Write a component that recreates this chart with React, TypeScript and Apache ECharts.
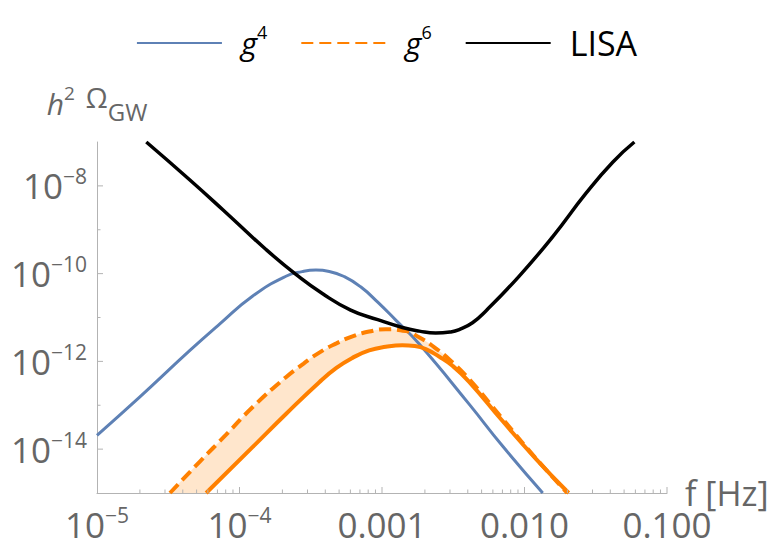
import React, { useEffect, useRef } from "react";
import * as echarts from "echarts";

// ---- data ----
const lisaF = [2.218e-5, 4.467e-5, 7.638e-5, 1.535e-4, 2.489e-4, 3.837e-4, 6.026e-4, 9.333e-4, 1.39e-3, 1.828e-3, 2.382e-3, 3.02e-3, 3.483e-3, 4.315e-3, 5.358e-3, 9.183e-3, 1.585e-2, 2.704e-2, 4.159e-2, 5.902e-2];
const lisaOmega = [1.0e-7, 1.38e-8, 2.858e-9, 3.54e-10, 9.594e-11, 3.467e-11, 1.479e-11, 8.913e-12, 5.929e-12, 4.898e-12, 4.406e-12, 4.677e-12, 5.309e-12, 7.586e-12, 1.413e-11, 8.79e-11, 7.096e-10, 6.823e-9, 3.467e-8, 1.0e-7];

const g4F = [1e-5, 1.991e-5, 4.467e-5, 7.244e-5, 1.239e-4, 2.118e-4, 2.754e-4, 3.436e-4, 4.266e-4, 5.445e-4, 7.079e-4, 9.333e-4, 1.259e-3, 1.82e-3, 4.074e-3, 7.015e-3, 1.343e-2];
const g4Omega = [2.07e-14, 1.531e-13, 1.75e-12, 7.047e-12, 3.09e-11, 8.71e-11, 1.109e-10, 1.202e-10, 1.122e-10, 8.511e-11, 5.012e-11, 2.239e-11, 8.511e-12, 2.512e-12, 1.072e-13, 1.175e-14, 1.0e-15];

const g6UpperF = [3.251e-5, 5.248e-5, 8.054e-5, 1.239e-4, 2.118e-4, 2.818e-4, 3.631e-4, 4.786e-4, 6.209e-4, 8.128e-4, 1.062e-3, 1.466e-3, 1.82e-3, 2.254e-3, 3.02e-3, 4.074e-3, 7.015e-3, 1.202e-2, 1.995e-2];
const g6UpperOmega = [1.0e-15, 5.129e-15, 2.138e-14, 9.12e-14, 4.365e-13, 8.913e-13, 1.585e-12, 2.57e-12, 3.715e-12, 4.786e-12, 5.37e-12, 4.898e-12, 3.548e-12, 2.27e-12, 1.047e-12, 3.981e-13, 4.898e-14, 6.166e-15, 1.0e-15];

const g6LowerF = [5.834e-5, 1.239e-4, 2.118e-4, 3.631e-4, 4.786e-4, 6.209e-4, 8.128e-4, 1.062e-3, 1.39e-3, 1.698e-3, 2.028e-3, 2.512e-3, 3.119e-3, 4.074e-3, 7.015e-3, 1.202e-2, 2.042e-2];
const g6LowerOmega = [1.0e-15, 1.122e-14, 6.31e-14, 3.357e-13, 7.079e-13, 1.202e-12, 1.778e-12, 2.153e-12, 2.344e-12, 2.239e-12, 1.905e-12, 1.288e-12, 7.943e-13, 3.467e-13, 4.365e-14, 6.026e-15, 1.0e-15];

const xTickValues = [1e-5, 1e-4, 1e-3, 1e-2, 1e-1];
const xTickLabels = ["10^\u22125", "10^\u22124", "0.001", "0.010", "0.100"];
const xMinorMultipliers = [2, 3, 4, 5, 6, 7, 8, 9];
const yTickValues = [1e-14, 1e-12, 1e-10, 1e-8];
const yTickLabels = ["10^\u221214", "10^\u221212", "10^\u221210", "10^\u22128"];
const yMinorTicks = [1e-13, 1e-11, 1e-9];

const legendNames = ["g4", "g6", "LISA"];

const X_MIN = 1e-5;
const X_MAX = 1e-1;
const Y_MIN = 1e-15;
const Y_MAX = 1e-7;

// ---- styles ----
const FONT = '"Open Sans", "Noto Sans", sans-serif';
const BLUE = "#5e81b5";
const ORANGE = "#ff8000";
const BAND = "rgba(255,128,0,0.2)";
const AXIS = "#b3b3b3";
const LABEL = "#666666";

const zip = (a: number[], b: number[]) => a.map((v, i) => [v, b[i]]);

// same bezier construction as ECharts line smoothing
function beziers(pts: number[][], smooth: number) {
  const segs: number[][] = [];
  if (pts.length < 2) return segs;
  let cp0x = pts[0][0];
  let cp0y = pts[0][1];
  for (let k = 1; k < pts.length; k++) {
    const [px, py] = pts[k - 1];
    const [x, y] = pts[k];
    let cp1x = x;
    let cp1y = y;
    let ncx = x;
    let ncy = y;
    if (k < pts.length - 1) {
      const [nx, ny] = pts[k + 1];
      let vx = nx - px;
      let vy = ny - py;
      const lenPrev = Math.hypot(x - px, y - py);
      const lenNext = Math.hypot(nx - x, ny - y);
      const ratio = lenNext / (lenNext + lenPrev);
      ncx = x + vx * smooth * ratio;
      ncy = y + vy * smooth * ratio;
      ncx = Math.min(ncx, Math.max(nx, x));
      ncy = Math.min(ncy, Math.max(ny, y));
      ncx = Math.max(ncx, Math.min(nx, x));
      ncy = Math.max(ncy, Math.min(ny, y));
      vx = ncx - x;
      vy = ncy - y;
      cp1x = x - (vx * lenPrev) / lenNext;
      cp1y = y - (vy * lenPrev) / lenNext;
      cp1x = Math.min(cp1x, Math.max(px, x));
      cp1y = Math.min(cp1y, Math.max(py, y));
      cp1x = Math.max(cp1x, Math.min(px, x));
      cp1y = Math.max(cp1y, Math.min(py, y));
      vx = x - cp1x;
      vy = y - cp1y;
      ncx = x + (vx * lenNext) / lenPrev;
      ncy = y + (vy * lenNext) / lenPrev;
    }
    segs.push([px, py, cp0x, cp0y, cp1x, cp1y, x, y]);
    cp0x = ncx;
    cp0y = ncy;
  }
  return segs;
}

const SMOOTH = 0.5;

const BandShape = echarts.graphic.extendShape({
  shape: { upper: [], lower: [] },
  buildPath(ctx: any, shape: any) {
    const up = beziers(shape.upper, SMOOTH);
    const lo = beziers(shape.lower, SMOOTH);
    if (!up.length || !lo.length) return;
    ctx.moveTo(up[0][0], up[0][1]);
    for (const s of up) ctx.bezierCurveTo(s[2], s[3], s[4], s[5], s[6], s[7]);
    const last = lo[lo.length - 1];
    ctx.lineTo(last[6], last[7]);
    for (let i = lo.length - 1; i >= 0; i--) {
      const s = lo[i];
      ctx.bezierCurveTo(s[4], s[5], s[2], s[3], s[0], s[1]);
    }
    ctx.closePath();
  },
});
echarts.graphic.registerShape("g6band", BandShape);

function makeFormatter(values: number[], labels: string[]) {
  return (v: number) => {
    const lv = Math.log10(v);
    const i = values.findIndex((t) => Math.abs(Math.log10(t) - lv) < 1e-6);
    if (i < 0) return "";
    const s = labels[i];
    if (s.includes("^")) {
      const [b, e] = s.split("^");
      return `{b|${b}}{s|${e}}`;
    }
    return `{b|${s}}`;
  };
}

const labelRich = {
  b: { fontSize: 35, lineHeight: 40, color: LABEL, fontFamily: FONT },
  s: { fontSize: 21, lineHeight: 16, verticalAlign: "top", color: LABEL, fontFamily: FONT },
};

export default function App() {
  const ref = useRef<HTMLDivElement>(null);

  useEffect(() => {
    if (!ref.current) return;
    const chart = echarts.init(ref.current, null, { renderer: "svg" });

    const xMinorTicks: number[] = [];
    for (let d = 0; d < xTickValues.length - 1; d++) {
      for (const m of xMinorMultipliers) xMinorTicks.push(xTickValues[d] * m);
    }

    const option: any = {
      animation: false,
      grid: { left: 97, right: 106, top: 142, bottom: 62, containLabel: false, outerBoundsMode: "none" },
      legend: {
        data: legendNames,
        top: 18,
        left: "center",
        itemWidth: 85,
        itemHeight: 14,
        itemGap: 33,
        selectedMode: false,
        itemStyle: { opacity: 0 },
        formatter: (name: string) =>
          name === "g4" ? "{i|g}{s|4}" : name === "g6" ? "{i|g}{s|6}" : "{n|LISA}",
        textStyle: {
          padding: [0, 0, 0, 14],
          color: "#000",
          fontFamily: FONT,
          rich: {
            i: { fontSize: 31, fontStyle: "italic", lineHeight: 40, color: "#000", fontFamily: FONT },
            s: { fontSize: 18, lineHeight: 21, verticalAlign: "top", color: "#000", fontFamily: FONT },
            n: { fontSize: 34, lineHeight: 40, color: "#000", fontFamily: FONT },
          },
        },
      },
      xAxis: {
        type: "log",
        logBase: 10,
        min: X_MIN,
        max: X_MAX,
        name: "f [Hz]",
        nameLocation: "end",
        nameGap: 18,
        nameMoveOverlap: false,
        nameTextStyle: { fontSize: 34, lineHeight: 20, color: LABEL, fontFamily: FONT, align: "left", verticalAlign: "middle", padding: [0, 0, 2, 0] },
        axisLine: { show: true, onZero: false, lineStyle: { color: AXIS, width: 1 } },
        axisTick: { show: false },
        minorTick: { show: false },
        splitLine: { show: false },
        axisLabel: {
          margin: 11,
          showMinLabel: true,
          showMaxLabel: true,
          formatter: makeFormatter(xTickValues, xTickLabels),
          rich: labelRich,
        },
      },
      yAxis: {
        type: "log",
        logBase: 10,
        min: Y_MIN,
        max: Y_MAX,
        name: "{h|h}{p|2}{o|\u03a9}{g|GW}",
        nameLocation: "end",
        nameGap: 19,
        nameMoveOverlap: false,
        nameTextStyle: {
          align: "center",
          verticalAlign: "bottom",
          color: LABEL,
          fontFamily: FONT,
          rich: {
            h: { fontSize: 30, fontStyle: "italic", lineHeight: 40, color: LABEL, fontFamily: FONT },
            p: { fontSize: 19, lineHeight: 26, verticalAlign: "top", color: LABEL, fontFamily: FONT },
            o: { fontSize: 28, lineHeight: 38, verticalAlign: "top", color: LABEL, fontFamily: FONT, padding: [0, 0, 0, 11] },
            g: { fontSize: 24, lineHeight: 20, verticalAlign: "bottom", color: LABEL, fontFamily: FONT },
          },
        },
        axisLine: { show: true, onZero: false, lineStyle: { color: AXIS, width: 1 } },
        axisTick: { show: false },
        minorTick: { show: false },
        splitLine: { show: false },
        axisLabel: {
          margin: 10,
          showMinLabel: true,
          showMaxLabel: true,
          formatter: makeFormatter(yTickValues, yTickLabels),
          rich: labelRich,
        },
      },
      series: [
        {
          type: "custom",
          name: "band",
          silent: true,
          clip: true,
          z: 1,
          data: [[1e-3, 1e-12]],
          renderItem: (params: any, api: any) => {
            if (params.dataIndex !== 0) return null;
            return {
              type: "g6band",
              shape: {
                upper: zip(g6UpperF, g6UpperOmega).map((p) => api.coord(p)),
                lower: zip(g6LowerF, g6LowerOmega).map((p) => api.coord(p)),
              },
              style: { fill: BAND },
            };
          },
        },
        {
          type: "line",
          name: "g4",
          data: zip(g4F, g4Omega),
          smooth: SMOOTH,
          symbol: "none",
          z: 2,
          lineStyle: { color: BLUE, width: 3 },
          itemStyle: { color: BLUE },
        },
        {
          type: "line",
          name: "g6 lower",
          data: zip(g6LowerF, g6LowerOmega),
          smooth: SMOOTH,
          symbol: "none",
          z: 3,
          lineStyle: { color: ORANGE, width: 4 },
          itemStyle: { color: ORANGE },
        },
        {
          type: "line",
          name: "g6",
          data: zip(g6UpperF, g6UpperOmega),
          smooth: SMOOTH,
          symbol: "none",
          z: 4,
          lineStyle: { color: ORANGE, width: 4, type: [12, 6] },
          itemStyle: { color: ORANGE },
        },
        {
          type: "line",
          name: "LISA",
          data: zip(lisaF, lisaOmega),
          smooth: SMOOTH,
          symbol: "none",
          z: 5,
          lineStyle: { color: "#000", width: 3.5 },
          itemStyle: { color: "#000" },
        },
        {
          type: "custom",
          name: "ticks",
          silent: true,
          clip: false,
          z: 6,
          data: [[1e-3, 1e-12]],
          renderItem: (params: any, api: any) => {
            if (params.dataIndex !== 0) return null;
            const children: any[] = [];
            const tickStyle = { stroke: AXIS, lineWidth: 1 };
            const xs: [number, number][] = [
              ...xTickValues.slice(1).map((v) => [v, 6] as [number, number]),
              ...xMinorTicks.map((v) => [v, 3.5] as [number, number]),
            ];
            for (const [v, len] of xs) {
              const p = api.coord([v, Y_MIN]);
              children.push({ type: "line", shape: { x1: p[0], y1: p[1], x2: p[0], y2: p[1] - len }, style: tickStyle });
            }
            const ys: [number, number][] = [
              ...yTickValues.map((v) => [v, 6] as [number, number]),
              ...yMinorTicks.map((v) => [v, 3.5] as [number, number]),
            ];
            for (const [v, len] of ys) {
              const p = api.coord([X_MIN, v]);
              children.push({ type: "line", shape: { x1: p[0], y1: p[1], x2: p[0] + len, y2: p[1] }, style: tickStyle });
            }
            return { type: "group", children };
          },
        },
      ],
    };

    chart.setOption(option);
    return () => chart.dispose();
  }, []);

  return (
    <div
      ref={ref}
      style={{ position: "fixed", left: 0, top: 0, width: 773, height: 555, background: "#fff" }}
    />
  );
}
